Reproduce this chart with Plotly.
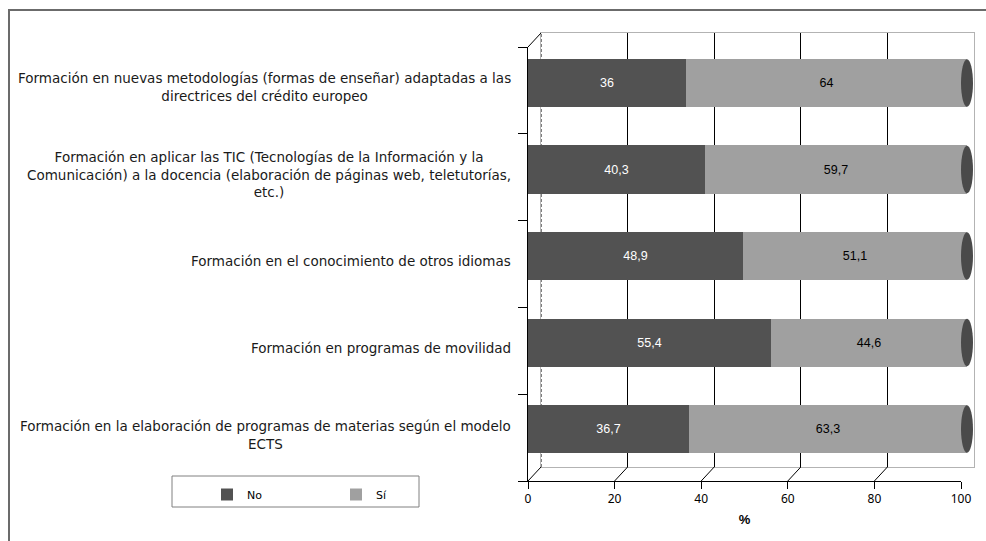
import plotly.graph_objects as go

# ---- data ----
categories = [
    "Formación en nuevas metodologías (formas de enseñar) adaptadas a las<br>directrices del crédito europeo",
    "Formación en aplicar las TIC (Tecnologías de la Información y la<br>Comunicación) a la docencia (elaboración de páginas web, teletutorías,<br>etc.)",
    "Formación en el conocimiento de otros idiomas",
    "Formación en programas de movilidad",
    "Formación en la elaboración de programas de materias según el modelo<br>ECTS",
]
no_values = [36, 40.3, 48.9, 55.4, 36.7]
si_values = [64, 59.7, 51.1, 44.6, 63.3]
series_names = ["No", "Sí"]
x_ticks = [0, 20, 40, 60, 80, 100]
axis_title = "%"

W, H = 986, 541
def px(x):
    return x / W
def py(y):
    return 1 - y / H

def fmt(v):
    return f"{v:g}".replace(".", ",")

idx = list(range(len(categories)))
fig = go.Figure()

# back wall subplot (x, y)
fig.add_trace(go.Scatter(x=[None], y=[None], xaxis="x", yaxis="y", showlegend=False, hoverinfo="skip"))
# bars subplot (x2, y2)
fig.add_trace(go.Bar(
    name=series_names[0], y=idx, x=no_values, orientation="h", xaxis="x2", yaxis="y2",
    marker=dict(color="#525252", line=dict(width=0)), width=0.555,
    text=[fmt(v) for v in no_values], textposition="inside", insidetextanchor="middle",
    textfont=dict(color="white", size=12.5, family="Liberation Sans"),
))
fig.add_trace(go.Bar(
    name=series_names[1], y=idx, x=si_values, orientation="h", xaxis="x2", yaxis="y2",
    marker=dict(color="#A0A0A0", line=dict(width=0)), width=0.555,
    text=[fmt(v) for v in si_values], textposition="inside", insidetextanchor="middle",
    textfont=dict(color="black", size=12.5, family="Liberation Sans"),
))
# front plane subplot (x3, y3)
fig.add_trace(go.Scatter(x=[None], y=[None], xaxis="x3", yaxis="y3", showlegend=False, hoverinfo="skip"))

shapes = []
# outer border
shapes.append(dict(type="rect", xref="paper", yref="paper", x0=px(9), x1=1.02, y0=-0.02, y1=py(10),
                   line=dict(color="#6b6b6b", width=2), layer="below"))
# dashed back zero line
shapes.append(dict(type="line", xref="x", yref="y domain", x0=0, x1=0, y0=0, y1=1,
                   line=dict(color="black", width=1, dash="3px,2px"), layer="below"))
# end caps of cylinders
for i in idx:
    total = no_values[i] + si_values[i]
    shapes.append(dict(type="circle", xref="x2", yref="y2", xsizemode="pixel", xanchor=total,
                       x0=-6, x1=6, y0=i - 0.275, y1=i + 0.275,
                       fillcolor="#4a4a4a", line=dict(width=0)))
# floor diagonals
for t in x_ticks:
    shapes.append(dict(type="line", xref="x3", yref="y3 domain", xsizemode="pixel", ysizemode="pixel",
                       xanchor=t, yanchor=0, x0=0, x1=13, y0=0, y1=14,
                       line=dict(color="black" if t < 100 else "#b3b3b3", width=1)))
# left wall top diagonal
shapes.append(dict(type="line", xref="x3", yref="y3 domain", xsizemode="pixel", ysizemode="pixel",
                   xanchor=0, yanchor=1, x0=0, x1=13, y0=0, y1=14, line=dict(color="black", width=1)))
# legend box
shapes.append(dict(type="rect", xref="paper", yref="paper", x0=px(172), x1=px(419), y0=py(507), y1=py(476),
                   line=dict(color="#808080", width=1), fillcolor="white", layer="below"))

annotations = []
for i, c in enumerate(categories):
    annotations.append(dict(text=c, xref="paper", yref="y3", x=px(513), y=i, yshift=3,
                            xanchor="right", yanchor="middle", align="center", showarrow=False,
                            font=dict(family="DejaVu Sans", size=13.5, color="#1a1a1a")))

# bar axis extended so caps are not clipped
bar_left_px, bar_100_px, bar_right_px = 528, 967, 982
bar_max = 100 * (bar_right_px - bar_left_px) / (bar_100_px - bar_left_px)

fig.update_layout(
    width=W, height=H,
    margin=dict(l=0, r=0, t=0, b=0, autoexpand=False),
    paper_bgcolor="white", plot_bgcolor="rgba(0,0,0,0)",
    barmode="stack", bargap=0,
    showlegend=True,
    legend=dict(orientation="h", x=px(207), y=py(480), xanchor="left", yanchor="top",
                bgcolor="rgba(0,0,0,0)", borderwidth=0, entrywidth=84, traceorder="normal",
                font=dict(family="DejaVu Sans", size=11, color="black")),
    xaxis=dict(domain=[px(541), px(974)], range=[0, 100], tickvals=[20, 40, 60, 80],
               showgrid=True, gridcolor="black", gridwidth=1, showticklabels=False, ticks="",
               showline=True, mirror=True, linecolor="#b3b3b3", zeroline=False, anchor="y", fixedrange=True),
    yaxis=dict(domain=[py(467), py(33)], range=[0, 1], showgrid=False, showticklabels=False, ticks="",
               showline=True, mirror=True, linecolor="#b3b3b3", zeroline=False, anchor="x", fixedrange=True),
    xaxis2=dict(domain=[px(bar_left_px), px(bar_right_px)], range=[0, bar_max], visible=False, anchor="y2", fixedrange=True),
    yaxis2=dict(domain=[py(481), py(47)], range=[4.601, -0.416], visible=False, anchor="x2", fixedrange=True),
    xaxis3=dict(domain=[px(528), px(961)], range=[0, 100], tickvals=x_ticks, ticks="outside", ticklen=7,
                tickcolor="black", showline=True, linecolor="black", showgrid=False, zeroline=False,
                tickfont=dict(family="Noto Sans", size=12, color="black"),
                title=dict(text="<b>" + axis_title + "</b>", font=dict(family="Liberation Sans", size=13, color="black"), standoff=8),
                anchor="y3", fixedrange=True, automargin=False),
    yaxis3=dict(domain=[py(481), py(47)], range=[4.5, -0.5], tickvals=[-0.5, 0.5, 1.5, 2.5, 3.5, 4.5],
                ticks="outside", ticklen=9, tickcolor="black", showticklabels=False,
                showline=True, linecolor="black", showgrid=False, zeroline=False,
                anchor="x3", fixedrange=True, automargin=False),
    shapes=shapes,
    annotations=annotations,
)

fig.write_html("out.html", config={"displayModeBar": False},
               post_script="document.body.style.margin='0';")
